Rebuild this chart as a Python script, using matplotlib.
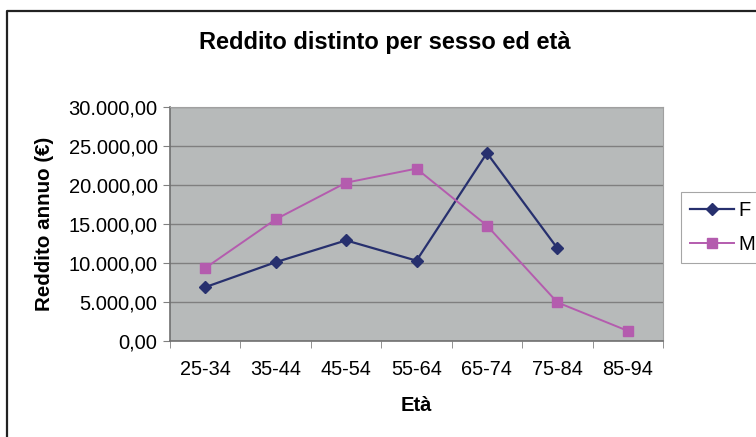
import numpy as np
import matplotlib.pyplot as plt
from matplotlib.lines import Line2D
from matplotlib.ticker import FuncFormatter, FixedLocator

plt.rcParams['font.family'] = ['Liberation Sans', 'DejaVu Sans']

eta = ['25-34', '35-44', '45-54', '55-64', '65-74', '75-84', '85-94']
reddito_f = [6900, 10100, 12900, 10300, 24100, 11900]
reddito_m = [9350, 15600, 20300, 22100, 14800, 4950, 1300]
y_ticks = [0, 5000, 10000, 15000, 20000, 25000, 30000]


def fmt_it(v, pos=None):
    s = '{:,.2f}'.format(v)
    return s.replace(',', 'X').replace('.', ',').replace('X', '.')


fig = plt.figure(figsize=(7.56, 4.37), dpi=100)
ax = fig.add_axes([170 / 756, 96 / 437, 493 / 756, 234 / 437])
ax.set_facecolor('#b7baba')

xf = np.arange(len(reddito_f))
xm = np.arange(len(reddito_m))
ax.plot(xf, reddito_f, color='#27306e', lw=1.6, marker='D', ms=6.5, label='F')
ax.plot(xm, reddito_m, color='#b45cae', lw=1.4, marker='s', ms=7, label='M')

ax.set_xlim(-0.5, len(eta) - 0.5)
ax.set_ylim(0, 30000)
ax.set_xticks(np.arange(len(eta)))
ax.set_xticklabels(eta)
ax.xaxis.set_minor_locator(FixedLocator(np.arange(len(eta) + 1) - 0.5))
ax.tick_params(axis='x', which='major', length=0, pad=14, labelsize=14.3)
ax.tick_params(axis='x', which='minor', length=5, color='#808080')
ax.set_yticks(y_ticks)
ax.yaxis.set_major_formatter(FuncFormatter(fmt_it))
ax.tick_params(axis='y', length=5, color='#808080', labelsize=14.5, pad=4)
ax.grid(axis='y', color='#7f7f7f', lw=1)
ax.set_axisbelow(True)
for side in ['top', 'right']:
    ax.spines[side].set_color('#a0a0a0')
for side in ['left', 'bottom']:
    ax.spines[side].set_color('#707070')
    ax.spines[side].set_linewidth(1.2)

ax.set_xlabel('Età', fontsize=14.5, fontweight='bold', labelpad=12)
ax.set_ylabel('Reddito annuo (€)', fontsize=14.8, fontweight='bold', labelpad=10)
fig.text(385 / 756, 1 - 43 / 437, 'Reddito distinto per sesso ed età',
         fontsize=17, fontweight='bold', ha='center', va='center')

leg = fig.legend(loc='upper left', bbox_to_anchor=(681 / 756, 1 - 192 / 437),
                 borderaxespad=0, fontsize=14.5, handlelength=2.2, frameon=True,
                 fancybox=False, borderpad=0.45, labelspacing=0.75, handletextpad=0.2)
leg.get_frame().set_edgecolor('#909090')
leg.get_frame().set_linewidth(0.8)

# cornice nera del grafico
fig.add_artist(Line2D([7 / 756, 7 / 756, 1.0], [0.0, 1 - 11 / 437, 1 - 11 / 437],
                      transform=fig.transFigure, color='#222222', lw=1.6))

fig.savefig('out.png', dpi=100)
